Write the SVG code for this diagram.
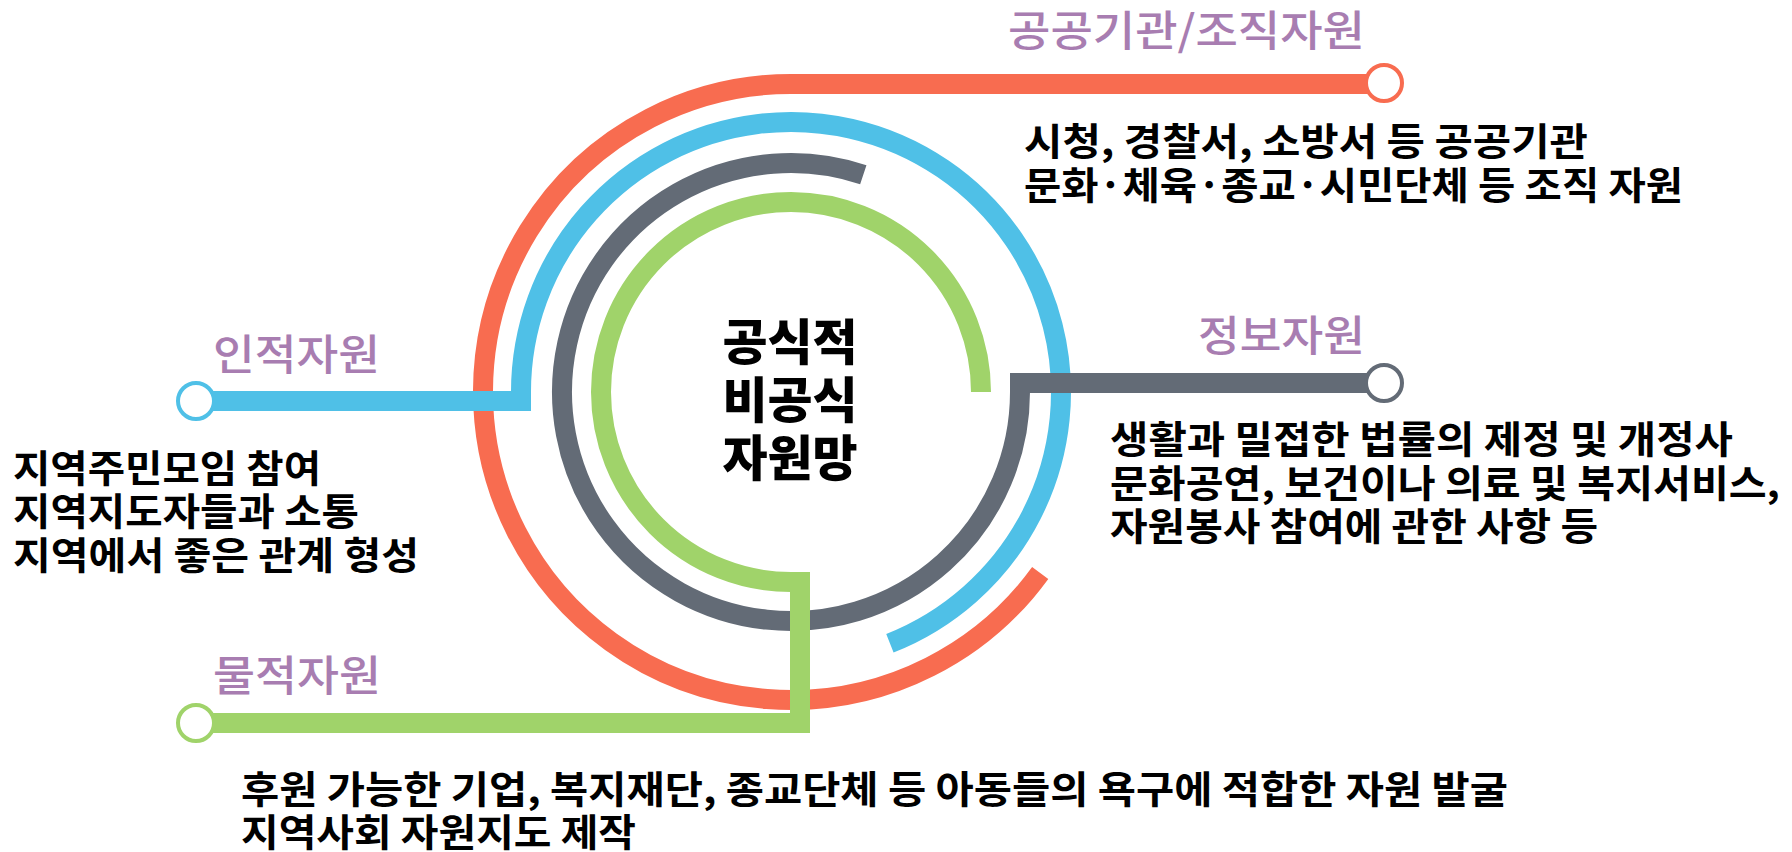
<svg xmlns="http://www.w3.org/2000/svg" width="1792" height="852" viewBox="0 0 1792 852">
<style>
.ln{fill:none;stroke-width:20;stroke-linecap:butt;stroke-linejoin:miter}
.red{stroke:#F86C50}
.blue{stroke:#4FC0E7}
.gray{stroke:#636B76}
.green{stroke:#A0D36A}
.dot{fill:#FFFFFF;stroke-width:4}
.lbl{font-family:"Noto Sans CJK KR","Noto Sans",sans-serif;font-size:42px;font-weight:500;fill:#A87DB1}
.body{font-family:"Noto Sans CJK KR","Noto Sans",sans-serif;font-size:38px;font-weight:700;fill:#000000}
.title{font-family:"Noto Sans CJK KR","Noto Sans",sans-serif;font-size:49px;font-weight:900;fill:#000000;text-anchor:middle}
</style>
<rect width="1792" height="852" fill="#FFFFFF"/>
<g id="connectors">
<path class="ln red" d="M 1040.2 573 A 308 308 0 1 1 791 84 L 1384 84"/>
<path class="ln blue" d="M 889.9 643.2 A 270 270 0 1 0 521 392 L 521 401 L 196 401"/>
<path class="ln gray" d="M 863.3 174.7 A 229 229 0 1 0 1020 392 L 1020 383 L 1384 383"/>
<path class="ln green" d="M 981 392 A 190 190 0 1 0 791 582 L 800 582 L 800 723 L 196 723"/>
</g>
<g id="center">
<text class="title" x="790" y="360">공식적</text>
<text class="title" x="790" y="418">비공식</text>
<text class="title" x="790" y="476">자원망</text>
</g>
<g id="node-public">
<circle class="dot red" cx="1384" cy="83" r="18"/>
<text class="lbl" x="1008" y="46" textLength="357" lengthAdjust="spacingAndGlyphs">공공기관/조직자원</text>
<text class="body" x="1024" y="155" textLength="564" lengthAdjust="spacingAndGlyphs">시청, 경찰서, 소방서 등 공공기관</text>
<text class="body" x="1024" y="199" textLength="659" lengthAdjust="spacingAndGlyphs">문화·체육·종교·시민단체 등 조직 자원</text>
</g>
<g id="node-info">
<circle class="dot gray" cx="1384" cy="383" r="18"/>
<text class="lbl" x="1198" y="351" textLength="167" lengthAdjust="spacingAndGlyphs">정보자원</text>
<text class="body" x="1110" y="453" textLength="623" lengthAdjust="spacingAndGlyphs">생활과 밀접한 법률의 제정 및 개정사</text>
<text class="body" x="1110" y="497" textLength="670" lengthAdjust="spacingAndGlyphs">문화공연, 보건이나 의료 및 복지서비스,</text>
<text class="body" x="1110" y="540" textLength="488" lengthAdjust="spacingAndGlyphs">자원봉사 참여에 관한 사항 등</text>
</g>
<g id="node-human">
<circle class="dot blue" cx="196" cy="401" r="18"/>
<text class="lbl" x="213" y="370" textLength="167" lengthAdjust="spacingAndGlyphs">인적자원</text>
<text class="body" x="13" y="482" textLength="308" lengthAdjust="spacingAndGlyphs">지역주민모임 참여</text>
<text class="body" x="13" y="525" textLength="346" lengthAdjust="spacingAndGlyphs">지역지도자들과 소통</text>
<text class="body" x="13" y="569" textLength="406" lengthAdjust="spacingAndGlyphs">지역에서 좋은 관계 형성</text>
</g>
<g id="node-material">
<circle class="dot green" cx="196" cy="723" r="18"/>
<text class="lbl" x="213" y="691" textLength="168" lengthAdjust="spacingAndGlyphs">물적자원</text>
<text class="body" x="241" y="803" textLength="1267" lengthAdjust="spacingAndGlyphs">후원 가능한 기업, 복지재단, 종교단체 등 아동들의 욕구에 적합한 자원 발굴</text>
<text class="body" x="241" y="846" textLength="395" lengthAdjust="spacingAndGlyphs">지역사회 자원지도 제작</text>
</g>
</svg>
